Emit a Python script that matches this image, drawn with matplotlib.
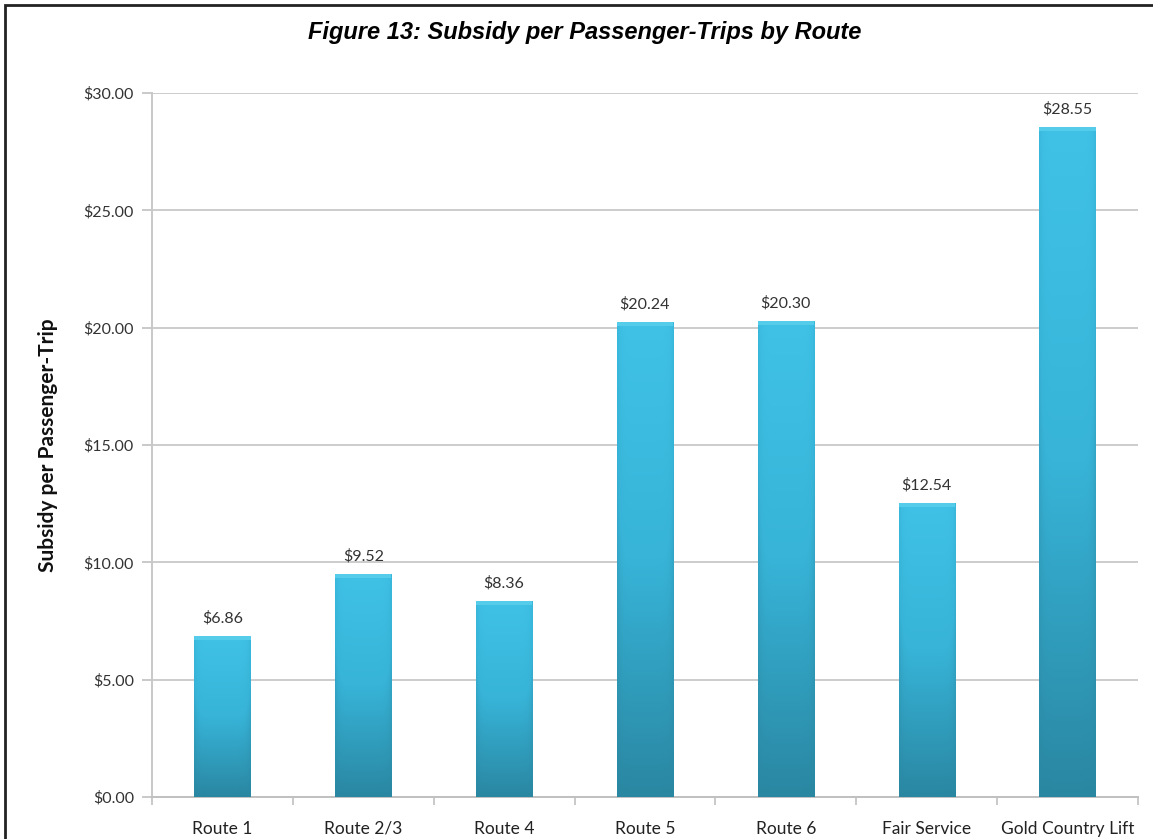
import numpy as np
import matplotlib.pyplot as plt
from matplotlib.colors import LinearSegmentedColormap
from matplotlib.patches import Rectangle

routes = ["Route 1", "Route 2/3", "Route 4", "Route 5", "Route 6",
          "Fair Service", "Gold Country Lift"]
subsidy = [6.86, 9.52, 8.36, 20.24, 20.30, 12.54, 28.55]
yticks = [0, 5, 10, 15, 20, 25, 30]

fig = plt.figure(figsize=(11.53, 8.39), dpi=100)
ax = fig.add_axes([152 / 1153, 42 / 839, (1138 - 152) / 1153, (797 - 93) / 839])

x = np.arange(len(routes))
bars = ax.bar(x, subsidy, width=0.4, color="#33a9cb", zorder=3)

# vertical gradient, light at the top and darker near the base,
# with darker left/right edges for a rounded look
cmap = LinearSegmentedColormap.from_list("bar", ["#2a87a2", "#37b4d8", "#3fc2e6"])
vert = np.linspace(0, 1, 256)[:, None]
horiz = np.linspace(-1, 1, 64)[None, :]
shade = vert * (1 - 0.35 * horiz ** 8)
for b in bars:
    x0, w, h = b.get_x(), b.get_width(), b.get_height()
    im = ax.imshow(shade, cmap=cmap, origin="lower", aspect="auto",
                   extent=(x0, x0 + w, 0, h), vmin=0, vmax=1, zorder=3)
    im.set_clip_path(b)
    ax.add_patch(Rectangle((x0, h - 0.18), w, 0.18, color="#55cdea", lw=0, zorder=4))
    ax.text(x0 + w / 2, h + 0.45, f"${h:.2f}", ha="center", va="bottom",
            fontsize=11.5, family="Lato", color="#333333", zorder=5)

ax.set_xlim(-0.5, len(routes) - 0.5)
ax.set_ylim(0, 30)
ax.set_yticks(yticks)
ax.set_yticklabels([f"${v:.2f}" for v in yticks], family="Lato", fontsize=11.5, color="#333333")
ax.set_xticks(x)
ax.set_xticklabels(routes, family="Lato", fontsize=12.5, color="#222222")
ax.set_xticks(np.arange(len(routes) + 1) - 0.5, minor=True)
ax.tick_params(axis="x", which="major", length=0, pad=17)
ax.tick_params(axis="x", which="minor", length=6, color="#c0c0c0", width=1.2)
ax.tick_params(axis="y", length=7, color="#c0c0c0", width=1.2, pad=6)

ax.grid(axis="y", color="#cccccc", lw=1.4, zorder=0)
for side in ["top", "right"]:
    ax.spines[side].set_visible(False)
ax.spines["left"].set_color("#c8c8c8")
ax.spines["left"].set_linewidth(1.4)
ax.spines["bottom"].set_color("#c0c0c0")
ax.spines["bottom"].set_linewidth(1.4)

ax.set_ylabel("Subsidy per Passenger-Trip", family="Lato", fontsize=15,
              fontweight="bold", color="#111111", labelpad=18)

fig.text(585 / 1153, 1 - 32 / 839, "Figure 13: Subsidy per Passenger-Trips by Route",
         ha="center", va="center", family="Liberation Sans", fontsize=17,
         fontweight="bold", fontstyle="italic")

# outer frame, open at the bottom and right
fig.patches.append(Rectangle((5 / 1153, -0.1), 1.2, 1.1 - 5 / 839, transform=fig.transFigure,
                             fill=False, ec="#222222", lw=2))

fig.savefig("out.png", dpi=100)
